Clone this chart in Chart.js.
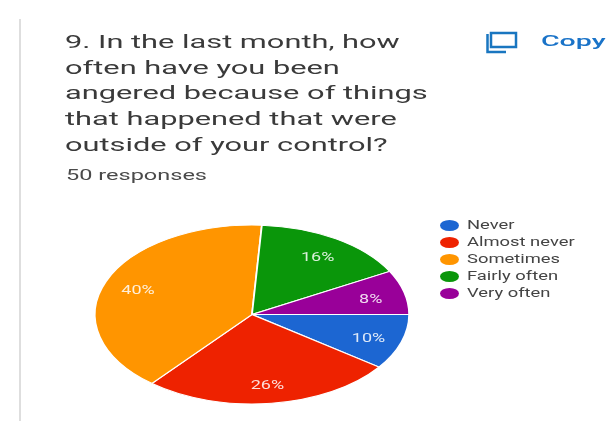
<!DOCTYPE html>
<html>
<head>
<meta charset="utf-8">
<script src="https://cdn.jsdelivr.net/npm/chart.js@4"></script>
<style>
  html, body { margin: 0; padding: 0; background: #fff; }
  body { width: 612px; height: 421px; position: relative; overflow: hidden; font-family: Roboto, sans-serif; }
  #pie { position: absolute; left: 0; top: 0; }
  #rule { position: absolute; left: 19px; top: 19px; width: 2px; height: 402px; background: #dedede; }
  .txt { position: absolute; white-space: nowrap; transform-origin: left top; }
  .title { left: 65px; font-size: 19px; line-height: 24px; color: #3a3a3a; transform: scaleX(1.62); }
  #responses { left: 66px; top: 166px; font-size: 14px; line-height: 18px; color: #4a4a4a; transform: scaleX(1.68); }
  #copyIcon { position: absolute; left: 485px; top: 31px; }
  #copy { left: 541px; top: 32px; font-size: 15px; line-height: 18px; font-weight: 500; color: #1a73c8; transform: scaleX(1.9); }
  .mark { position: absolute; left: 440px; width: 19px; height: 11px; border-radius: 50%; }
  .key { left: 467px; font-size: 12.5px; line-height: 16px; color: #444; transform: scaleX(1.47); }
</style>
</head>
<body>
<div id="rule"></div>
<canvas id="pie" width="612" height="421"></canvas>
<svg id="copyIcon" width="34" height="24" viewBox="0 0 34 24" fill="none" stroke="#1976c0" stroke-width="2.5">
  <rect x="6" y="2" width="25" height="14"></rect>
  <path d="M2.5 3 V21 H21"></path>
</svg>
<div class="txt" id="copy">Copy</div>
<div class="txt" id="responses">50 responses</div>
<script>
const titleLines = [
  "9. In the last month, how",
  "often have you been",
  "angered because of things",
  "that happened that were",
  "outside of your control?"
];
const categories = ["Never", "Almost never", "Sometimes", "Fairly often", "Very often"];
const percents = [10, 26, 40, 16, 8];
const colors = ["#1c66d2", "#ee2200", "#ff9500", "#0a960a", "#990099"];

titleLines.forEach((line, i) => {
  const el = document.createElement("div");
  el.className = "txt title";
  el.style.top = 30 + i * 25.7 + "px";
  el.textContent = line;
  document.body.appendChild(el);
});

categories.forEach((name, i) => {
  const y = 225 + i * 17;
  const mark = document.createElement("div");
  mark.className = "mark";
  mark.style.top = y - 5.5 + "px";
  mark.style.background = colors[i];
  document.body.appendChild(mark);
  const key = document.createElement("div");
  key.className = "txt key";
  key.style.top = y - 8 + "px";
  key.textContent = name;
  document.body.appendChild(key);
});

// pie is laid out as a circle, then flattened around its centre when drawn
const squash = 158 / 90;

const flattenPie = {
  id: "flattenPie",
  beforeDatasetsDraw(chart) {
    const arc = chart.getDatasetMeta(0).data[0];
    const ctx = chart.ctx;
    ctx.save();
    ctx.translate(arc.x, arc.y);
    ctx.scale(squash, 1);
    ctx.translate(-arc.x, -arc.y);
  },
  afterDatasetsDraw(chart) {
    const ctx = chart.ctx;
    ctx.restore();
    ctx.save();
    ctx.font = "12px Roboto, sans-serif";
    ctx.fillStyle = "rgba(255,255,255,0.85)";
    ctx.textAlign = "center";
    ctx.textBaseline = "middle";
    chart.getDatasetMeta(0).data.forEach((arc, i) => {
      const mid = (arc.startAngle + arc.endAngle) / 2;
      const r = arc.outerRadius * 0.78;
      const x = arc.x + Math.cos(mid) * r * squash;
      const y = arc.y + Math.sin(mid) * r + 2.5;
      ctx.save();
      ctx.translate(x, y);
      ctx.scale(1.5, 1);
      ctx.fillText(percents[i] + "%", 0, 0);
      ctx.restore();
    });
    ctx.restore();
  }
};

new Chart(document.getElementById("pie"), {
  type: "pie",
  data: {
    labels: categories,
    datasets: [{
      data: percents,
      backgroundColor: colors,
      borderColor: "#fff",
      borderWidth: 1
    }]
  },
  options: {
    responsive: false,
    animation: false,
    rotation: 90,
    layout: { padding: { left: 162, right: 270, top: 224, bottom: 16 } },
    plugins: { legend: { display: false }, tooltip: { enabled: false } }
  },
  plugins: [flattenPie]
});
</script>
</body>
</html>
